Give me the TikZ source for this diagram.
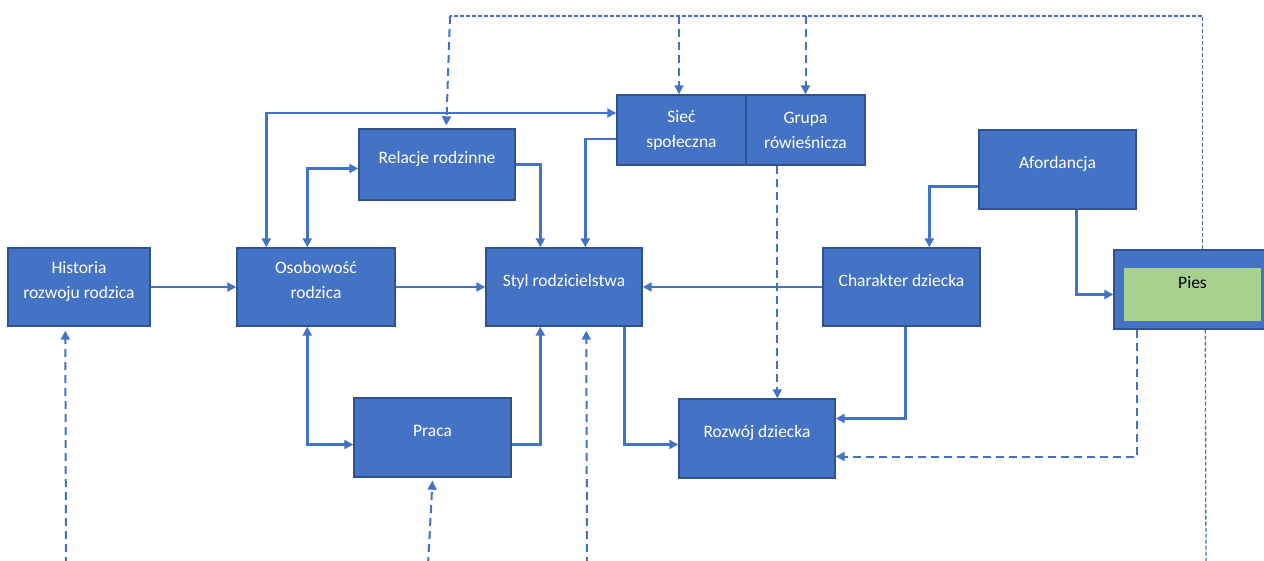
\documentclass[tikz,border=0pt]{standalone}
\usepackage{fontspec}
\setmainfont{Carlito}
\usepackage{tikz}
\usetikzlibrary{arrows.meta,shapes}
\definecolor{boxblue}{HTML}{4472C4}
\definecolor{boxline}{HTML}{2F528F}
\definecolor{piesgreen}{HTML}{A9D18E}
\newcommand{\lowtext}{\rule[-14pt]{0pt}{14pt}}
\tikzstyle{plain block}=[rectangle, draw=boxline, fill=boxblue
,line width=1.4pt
,text=white, align=center, inner sep=0pt
,font=\fontsize{17.5}{25}\selectfont
]
\tikzstyle{block} = [plain block, execute at end node=\lowtext]
\tikzstyle{green block} = [plain block, draw=none, fill=piesgreen, text=black
,execute at end node={\rule[-24pt]{0pt}{24pt}}]
\tikzstyle{edge} = [draw, line width=2.4pt, boxblue, -{Triangle[length=9pt,width=9pt]}]
\tikzstyle{both edge} = [edge, {Triangle[length=9pt,width=9pt]}-{Triangle[length=9pt,width=9pt]}]
\tikzstyle{dashed edge} = [edge, line width=2pt, dash pattern=on 8pt off 5pt]
\tikzstyle{dotted edge} = [draw, line width=1.3pt, boxblue, dash pattern=on 4pt off 2pt]

\begin{document}
\begin{tikzpicture}[x=1pt,y=-1pt]
    \clip (0,0) rectangle (1264,561);
    % Draw the boxes
    % First the ones with text set a bit high
    \foreach \pos/\name/\w/\h/\txt in {{(79,287)/hist/142/78/Historia\\rozwoju rodzica}, {(316,287)/osob/158/78/Osobowość\\rodzica}, {(437,164.5)/rel/156/71/Relacje rodzinne}, {(564,287)/styl/156/78/Styl rodzicielstwa}, {(432.5,437.5)/praca/157/79/Praca}, {(1057.5,169.5)/afor/157/79/Afordancja}, {(901.5,287)/char/157/78/Charakter dziecka}, {(757,438.5)/rozw/156/79/Rozwój dziecka}}
        \node[block, minimum width=\w pt, minimum height=\h pt] (\name) at \pos {\txt};

    \foreach \pos/\name/\w/\h/\txt in {{(681.5,130)/siec/129/70/Sieć\\społeczna}, {(805.5,130)/grupa/119/70/Grupa\\rówieśnicza}}
        \node[plain block, minimum width=\w pt, minimum height=\h pt] (\name) at \pos {\txt};

    % the dog box
    \node[plain block, minimum width=157pt, minimum height=79pt] (pies) at (1192.5,289.5) {};
    \node[green block, minimum width=137pt, minimum height=53pt] (piesin) at (1192.5,294.5) {Pies};

    % Connect boxes with edges
    \foreach \source/\dest in {hist/osob, osob/styl, char/styl}
        \path[edge] (\source) -- (\dest);

    \path[edge] (rel.east) -| ([xshift=55pt]styl.north west);
    \path[edge] ([yshift=-9pt]siec.west) -| ([xshift=100pt]styl.north west);
    \path[both edge] ([xshift=71pt]osob.north west) |- ([yshift=-4pt]rel.west);
    \path[both edge] ([xshift=30pt]osob.north west) |- ([yshift=17pt]siec.west);
    \path[both edge] ([xshift=71pt]osob.south west) |- ([yshift=-7pt]praca.west);
    \path[edge] ([yshift=-7pt]praca.east) -| ([xshift=55pt]styl.south west);
    \path[edge] ([xshift=139pt]styl.south west) |- ([yshift=-6pt]rozw.west);
    \path[edge] ([xshift=83pt]char.south west) |- ([yshift=20pt]rozw.east);
    \path[edge] ([yshift=-17pt]afor.west) -| ([xshift=107pt]char.north west);
    \path[edge] ([xshift=98pt]afor.south west) |- ([yshift=-5pt]pies.west);

    % Dashed influences
    \path[dashed edge] ([xshift=24pt]pies.south west) |- ([yshift=-18pt]rozw.east);
    \path[dashed edge] ([xshift=32pt]grupa.south west) -- ([xshift=32pt]grupa.south west |- rozw.north);

    \coordinate (tl) at (450,16);
    \path[dotted edge] ([xshift=89pt]pies.north west) |- (tl);
    \path[dashed edge] (tl) -- ([xshift=88pt,yshift=3pt]rel.north west);
    \path[dashed edge] ([xshift=-2.5pt]siec.north |- tl) -- ([xshift=-2.5pt]siec.north);
    \path[dashed edge] (grupa.north |- tl) -- (grupa.north);

    % loose ends at the bottom
    \coordinate (hbot) at (66,565);
    \coordinate (pbot) at (428,565);
    \coordinate (sbot) at (587,565);
    \coordinate (pend) at (1206,565);
    \path[dashed edge] (hbot) -- ([xshift=58pt,yshift=-4pt]hist.south west);
    \path[dashed edge] (pbot) -- ([yshift=-3pt]praca.south);
    \path[dashed edge] (sbot) -- ([xshift=101pt,yshift=-4pt]styl.south west);
    \path[dotted edge] ([xshift=92pt]pies.south west) -- (pend);
\end{tikzpicture}
\end{document}
